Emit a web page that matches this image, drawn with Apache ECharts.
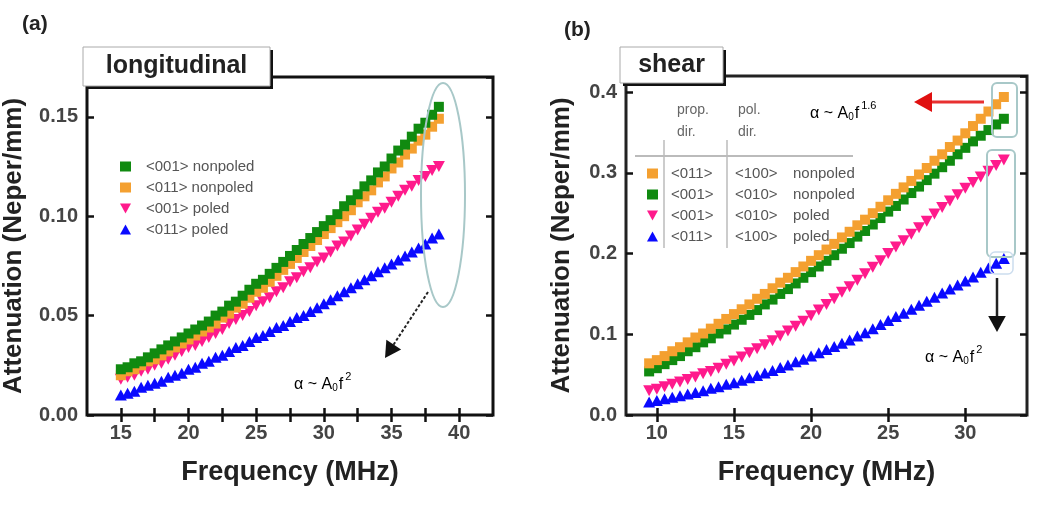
<!DOCTYPE html>
<html><head><meta charset="utf-8">
<script src="https://cdn.jsdelivr.net/npm/echarts@6/dist/echarts.min.js"></script>
<style>html,body{margin:0;padding:0;background:#fff}#c{width:1050px;height:506px}</style>
</head><body><div id="c"></div>
<script>
// ---------- Panel (a): longitudinal ----------
const freqA = [15,15.5,16,16.5,17,17.5,18,18.5,19,19.5,20,20.5,21,21.5,22,22.5,23,23.5,24,24.5,25,25.5,26,26.5,27,27.5,28,28.5,29,29.5,30,30.5,31,31.5,32,32.5,33,33.5,34,34.5,35,35.5,36,36.5,37,37.5,38,38.5];
const aGreen001Nonpoled = [.023,.024,.026,.027,.029,.031,.033,.035,.037,.039,.041,.043,.045,.047,.050,.052,.055,.057,.060,.063,.066,.068,.071,.074,.077,.080,.083,.086,.089,.092,.095,.098,.101,.105,.108,.111,.115,.118,.122,.125,.129,.133,.136,.140,.144,.147,.151,.155];
const aOrange011Nonpoled = [.020,.022,.023,.025,.027,.028,.030,.032,.034,.036,.038,.040,.042,.044,.046,.049,.051,.054,.056,.059,.062,.064,.067,.070,.073,.076,.079,.082,.085,.088,.091,.094,.097,.100,.103,.107,.110,.113,.117,.120,.124,.127,.131,.134,.138,.141,.145,.149];
const aPink001Poled = [.018,.019,.020,.022,.023,.025,.026,.028,.030,.032,.034,.035,.037,.039,.041,.043,.046,.048,.050,.052,.055,.057,.059,.062,.064,.067,.069,.072,.074,.077,.079,.082,.085,.087,.090,.093,.096,.099,.102,.104,.107,.110,.113,.115,.118,.120,.123,.125];
const aBlue011Poled = [.010,.011,.012,.014,.015,.016,.017,.019,.020,.021,.023,.024,.026,.027,.029,.030,.032,.034,.035,.037,.039,.040,.042,.044,.045,.047,.049,.050,.052,.054,.056,.058,.060,.062,.064,.066,.068,.070,.072,.074,.076,.078,.080,.082,.084,.086,.089,.091];
const xLabelsA = [15,20,25,30,35,40];
const xTicksA = [15,17.5,20,22.5,25,27.5,30,32.5,35,37.5,40];
const namesA = ['<001> nonpoled','<011> nonpoled','<001> poled','<011> poled'];

// ---------- Panel (b): shear ----------
const freqB = [9.5,10,10.5,11,11.5,12,12.5,13,13.5,14,14.5,15,15.5,16,16.5,17,17.5,18,18.5,19,19.5,20,20.5,21,21.5,22,22.5,23,23.5,24,24.5,25,25.5,26,26.5,27,27.5,28,28.5,29,29.5,30,30.5,31,31.5,32,32.5];
const bOrange = [.064,.068,.073,.079,.084,.090,.096,.101,.107,.113,.119,.125,.131,.137,.144,.150,.157,.164,.170,.177,.184,.191,.198,.205,.212,.220,.227,.235,.242,.250,.258,.266,.274,.282,.290,.298,.306,.315,.323,.332,.340,.349,.358,.367,.376,.385,.394];
const bGreen = [.054,.058,.063,.068,.073,.079,.084,.090,.095,.101,.106,.112,.118,.124,.130,.137,.143,.150,.156,.163,.170,.177,.184,.191,.198,.206,.213,.221,.228,.236,.244,.252,.259,.267,.275,.283,.291,.299,.307,.315,.323,.331,.339,.346,.353,.360,.367];
const bPink = [.030,.032,.035,.038,.041,.044,.047,.051,.054,.058,.063,.067,.072,.077,.082,.087,.092,.098,.104,.110,.116,.123,.130,.137,.144,.152,.159,.167,.175,.183,.191,.200,.208,.216,.224,.232,.240,.249,.257,.265,.273,.281,.288,.295,.302,.309,.316];
const bBlue = [.016,.018,.020,.022,.024,.026,.028,.030,.033,.035,.038,.040,.043,.046,.049,.052,.055,.059,.062,.066,.069,.073,.077,.081,.085,.089,.093,.098,.102,.107,.112,.117,.122,.126,.131,.136,.141,.146,.151,.156,.161,.166,.171,.177,.182,.188,.194];
const xLabelsB = [10,15,20,25,30];
const namesB = ['<011> <100> nonpoled','<001> <010> nonpoled','<001> <010> poled','<011> <100> poled'];

const COL = {green:'#108a10', orange:'#f4a030', pink:'#ff1a8c', blue:'#0a0aff'};
const F = '"Liberation Sans", Arial, Helvetica, sans-serif';
const TRI_DOWN = 'path://M0,0 L10,0 L5,9 Z';
const TRI_UP = 'path://M5,0 L10,9 L0,9 Z';

function pts(xs, ys){ return xs.map((x,i)=>[x, ys[i]]); }

function xAx(grid, min, max, labels, ticks, pos, showLabel, name){
  return {
    gridIndex: grid, type:'value', min:min, max:max, position:pos,
    axisLine:{show:false},
    axisTick:{show:true, inside:true, length:7, customValues:ticks, lineStyle:{color:'#111', width:2.5}},
    axisLabel:{show:showLabel, customValues:labels, fontSize:20, fontWeight:'bold', color:'#444', fontFamily:F, margin:8},
    splitLine:{show:false},
    name: name || '', nameLocation:'middle', nameGap:44,
    nameTextStyle:{fontSize:27, fontWeight:'bold', color:'#222', fontFamily:F}
  };
}
function yAx(grid, max, interval, digits, pos, showLabel, name, gap){
  return {
    gridIndex: grid, type:'value', min:0, max:max, interval:interval, position:pos,
    axisLine:{show:false},
    axisTick:{show:true, inside:true, length:7, lineStyle:{color:'#111', width:2.5}},
    axisLabel:{show:showLabel, showMaxLabel:false, fontSize:20, fontWeight:'bold', color:'#444', fontFamily:F, margin:9,
      formatter: v => v.toFixed(digits)},
    splitLine:{show:false},
    name: name || '', nameLocation:'middle', nameGap:gap || 50,
    nameTextStyle:{fontSize:26, fontWeight:'bold', color:'#222', fontFamily:F}
  };
}
function sc(name, xi, yi, data, color, symbol, size){
  return {type:'scatter', name:name, xAxisIndex:xi, yAxisIndex:yi, data:data,
    symbol:symbol, symbolSize:size,
    itemStyle:{color:color, opacity:1}, emphasis:{disabled:true}, silent:true, animation:false};
}

const chart = echarts.init(document.getElementById('c'));

const grayBox = '#a8c8c8';
function arrowHead(tipX, tipY, dirX, dirY, size, color){
  const len = Math.hypot(dirX, dirY); const ux = dirX/len, uy = dirY/len;
  const bx = tipX - ux*size, by = tipY - uy*size;
  const px = -uy*size*0.55, py = ux*size*0.55;
  return {type:'polygon', z:120, shape:{points:[[tipX,tipY],[bx+px,by+py],[bx-px,by-py]]}, style:{fill:color}};
}
function alphaText(x, y, exp){
  return {type:'text', z:120, left:x, top:y, style:{
    text:'{n|α ~ A}{s|0}{n|f}{p|' + exp + '}',
    rich:{
      n:{fontSize:16, color:'#555', fontFamily:F, lineHeight:22, verticalAlign:'bottom'},
      s:{fontSize:10, color:'#555', fontFamily:F, lineHeight:22, verticalAlign:'bottom', padding:[0,1,0,0]},
      p:{fontSize:11, color:'#555', fontFamily:F, lineHeight:22, verticalAlign:'top', padding:[0,0,0,2]}
    }}};
}

const option = {
  backgroundColor:'#fff',
  animation:false,
  grid:[
    {left:87, top:77, width:406, height:338, show:true, borderColor:'#111', borderWidth:3, backgroundColor:'#fff'},
    {left:626, top:76, width:401, height:339, show:true, borderColor:'#222', borderWidth:3, backgroundColor:'#fff'}
  ],
  xAxis:[
    xAx(0, 12.5, 42.5, xLabelsA, xTicksA, 'bottom', true, 'Frequency (MHz)'),
    xAx(0, 12.5, 42.5, xLabelsA, xTicksA, 'top', false, ''),
    xAx(1, 8, 34, xLabelsB, xLabelsB, 'bottom', true, 'Frequency (MHz)'),
    xAx(1, 8, 34, xLabelsB, xLabelsB, 'top', false, '')
  ],
  yAxis:[
    yAx(0, 0.17, 0.05, 2, 'left', true, 'Attenuation (Neper/mm)', 60),
    yAx(0, 0.17, 0.05, 2, 'right', false, ''),
    yAx(1, 0.42, 0.1, 1, 'left', true, 'Attenuation (Neper/mm)', 51),
    yAx(1, 0.42, 0.1, 1, 'right', false, '')
  ],
  legend:[
    {data:namesA, left:115, top:154, orient:'vertical', itemGap:6, itemWidth:11, itemHeight:10,
     selectedMode:false,
     formatter: n => '{t|' + n + '}',
     textStyle:{fontSize:15, color:'#555', fontFamily:F, rich:{t:{fontSize:15, color:'#555', fontFamily:F, padding:[0,0,0,10]}}}},
    {data:namesB, left:642, top:161, orient:'vertical', itemGap:6, itemWidth:11, itemHeight:10,
     selectedMode:false,
     formatter: n => { const p = n.split(' '); return '{a|' + p[0] + '}{b|' + p[1] + '}{c|' + p[2] + '}'; },
     textStyle:{fontSize:15, color:'#555', fontFamily:F,
       rich:{a:{width:64, fontSize:15, color:'#555', fontFamily:F, padding:[0,0,0,8]},
             b:{width:58, fontSize:15, color:'#555', fontFamily:F},
             c:{fontSize:15, color:'#555', fontFamily:F}}}}
  ],
  series:[
    sc(namesA[3], 0, 0, pts(freqA, aBlue011Poled), COL.blue, TRI_UP, [12,11]),
    sc(namesA[2], 0, 0, pts(freqA, aPink001Poled), COL.pink, TRI_DOWN, [12,11]),
    sc(namesA[1], 0, 0, pts(freqA, aOrange011Nonpoled), COL.orange, 'rect', 10),
    sc(namesA[0], 0, 0, pts(freqA, aGreen001Nonpoled), COL.green, 'rect', 10),
    sc(namesB[3], 2, 2, pts(freqB, bBlue), COL.blue, TRI_UP, [12,11]),
    sc(namesB[2], 2, 2, pts(freqB, bPink), COL.pink, TRI_DOWN, [12,11]),
    sc(namesB[1], 2, 2, pts(freqB, bGreen), COL.green, 'rect', 10),
    sc(namesB[0], 2, 2, pts(freqB, bOrange), COL.orange, 'rect', 10)
  ],
  graphic:[
    {type:'text', z:120, left:22, top:14, style:{text:'(a)', fontSize:21, fontWeight:'bold', fill:'#222', fontFamily:F}},
    {type:'text', z:120, left:564, top:20, style:{text:'(b)', fontSize:21, fontWeight:'bold', fill:'#222', fontFamily:F}},
    {type:'rect', z:110, shape:{x:86, y:50, width:187, height:39}, style:{fill:'#111'}},
    {type:'rect', z:111, shape:{x:83, y:47, width:187, height:39}, style:{fill:'#fff', stroke:'#aaa', lineWidth:1}},
    {type:'text', z:112, x:176.5, y:66.5, style:{text:'longitudinal', fontSize:25, fontWeight:'bold', fill:'#222', fontFamily:F, align:'center', verticalAlign:'middle'}},
    {type:'rect', z:110, shape:{x:623, y:50, width:103, height:36}, style:{fill:'#111'}},
    {type:'rect', z:111, shape:{x:620, y:47, width:103, height:36}, style:{fill:'#fff', stroke:'#aaa', lineWidth:1}},
    {type:'text', z:112, x:671.5, y:65.5, style:{text:'shear', fontSize:25, fontWeight:'bold', fill:'#222', fontFamily:F, align:'center', verticalAlign:'middle'}},
    {type:'text', z:120, left:677, top:103, style:{text:'prop.', fontSize:14, fill:'#666', fontFamily:F}},
    {type:'text', z:120, left:677, top:125, style:{text:'dir.', fontSize:14, fill:'#666', fontFamily:F}},
    {type:'text', z:120, left:738, top:103, style:{text:'pol.', fontSize:14, fill:'#666', fontFamily:F}},
    {type:'text', z:120, left:738, top:125, style:{text:'dir.', fontSize:14, fill:'#666', fontFamily:F}},
    {type:'line', z:119, shape:{x1:635, y1:156, x2:853, y2:156}, style:{stroke:'#bbb', lineWidth:2}},
    {type:'line', z:119, shape:{x1:664, y1:140, x2:664, y2:248}, style:{stroke:'#bbb', lineWidth:1.5}},
    {type:'line', z:119, shape:{x1:727, y1:140, x2:727, y2:248}, style:{stroke:'#bbb', lineWidth:1.5}},
    {type:'ellipse', z:100, shape:{cx:443, cy:195, rx:22, ry:112}, style:{fill:'none', stroke:grayBox, lineWidth:2}},
    {type:'line', z:120, shape:{x1:428, y1:292, x2:392, y2:347}, style:{stroke:'#222', lineWidth:2, lineDash:[3,2]}},
    arrowHead(385, 358, -43, 66, 16, '#111'),
    alphaText(294, 371, '2'),
    {type:'rect', z:100, shape:{x:992, y:83, width:25, height:54, r:5}, style:{fill:'none', stroke:grayBox, lineWidth:2}},
    {type:'rect', z:100, shape:{x:987, y:150, width:28, height:107, r:5}, style:{fill:'none', stroke:grayBox, lineWidth:2}},
    {type:'rect', z:100, shape:{x:990, y:252, width:23, height:22, r:5}, style:{fill:'none', stroke:'#cde', lineWidth:1.5}},
    {type:'line', z:120, shape:{x1:984, y1:102, x2:930, y2:102}, style:{stroke:'#e83030', lineWidth:3}},
    arrowHead(914, 102, -1, 0, 18, '#e01010'),
    alphaText(810, 100, '1.6'),
    {type:'line', z:120, shape:{x1:997, y1:278, x2:997, y2:318}, style:{stroke:'#222', lineWidth:2.5}},
    arrowHead(997, 332, 0, 1, 16, '#111'),
    alphaText(925, 344, '2')
  ]
};
chart.setOption(option);
</script>
</body></html>
